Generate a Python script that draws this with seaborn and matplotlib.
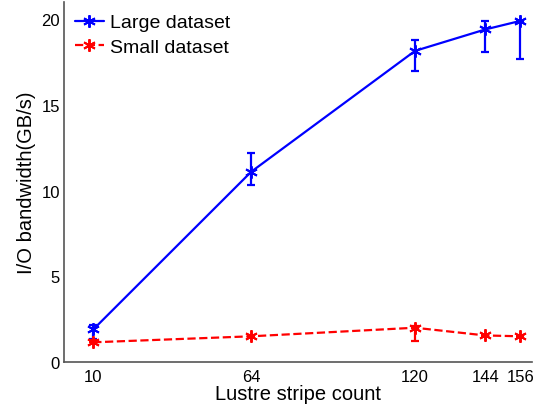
import numpy as np
import pandas as pd
import matplotlib
matplotlib.use('Agg')
import matplotlib.pyplot as plt
import seaborn as sns

# stripe counts on the x axis
stripes = [10, 64, 120, 144, 156]

# large dataset: mean bandwidth and error bar ends (GB/s)
large_mean = [1.9, 11.1, 18.15, 19.4, 19.9]
large_low = [1.35, 10.35, 16.95, 18.1, 17.7]
large_high = [2.15, 12.2, 18.8, 19.9, 19.9]

# small dataset
small_mean = [1.15, 1.5, 2.0, 1.55, 1.5]
small_low = [1.15, 1.45, 1.25, 1.5, 1.45]
small_high = [1.3, 1.6, 2.1, 1.6, 1.55]

sns.set_style("white")
plt.rcParams['font.family'] = ['Liberation Sans', 'DejaVu Sans']
plt.rcParams['text.color'] = 'black'
plt.rcParams['axes.labelcolor'] = 'black'
plt.rcParams['xtick.color'] = 'black'
plt.rcParams['ytick.color'] = 'black'

fig = plt.figure(figsize=(5.49, 4.10), dpi=100)
ax = fig.add_axes([0.1166, 0.1146, 0.8525, 0.878])

asterisk = (6, 2, 0)
series = [('Large dataset', large_mean, large_low, large_high, '#0000ff', '-'),
          ('Small dataset', small_mean, small_low, small_high, '#ff0000', '--')]

for name, mean, low, high, col, ls in series:
    sns.lineplot(x=stripes, y=mean, color=col, linestyle=ls, linewidth=1.6,
                 marker=asterisk, markersize=9, markeredgewidth=1.4,
                 markeredgecolor=col, label=name, ax=ax)
    m = np.array(mean)
    ax.errorbar(stripes, m, yerr=[m - np.array(low), np.array(high) - m],
                fmt='none', ecolor=col, elinewidth=1.6, capsize=3, capthick=1.6)

ax.set_xlim(0, 160)
ax.set_ylim(0, 21)
ax.set_xticks(stripes)
ax.set_yticks([0, 5, 10, 15, 20])
ax.tick_params(direction='in', length=4, labelsize=12, color='#333333')
ax.tick_params(axis='x', pad=5)
ax.tick_params(axis='y', pad=3)
ax.set_xlabel('Lustre stripe count', fontsize=14.5, labelpad=0)
ax.set_ylabel('I/O bandwidth(GB/s)', fontsize=14.5, labelpad=4)
for s in ['top', 'right']:
    ax.spines[s].set_visible(False)
for s in ['left', 'bottom']:
    ax.spines[s].set_color('#555555')
    ax.spines[s].set_linewidth(1.2)

leg = ax.legend(loc='upper left', frameon=False, fontsize=14, handlelength=1.5,
                handletextpad=0.3, borderaxespad=0.2, labelspacing=0.35,
                bbox_to_anchor=(-0.002, 1.0))

fig.savefig('out.png', dpi=100)
